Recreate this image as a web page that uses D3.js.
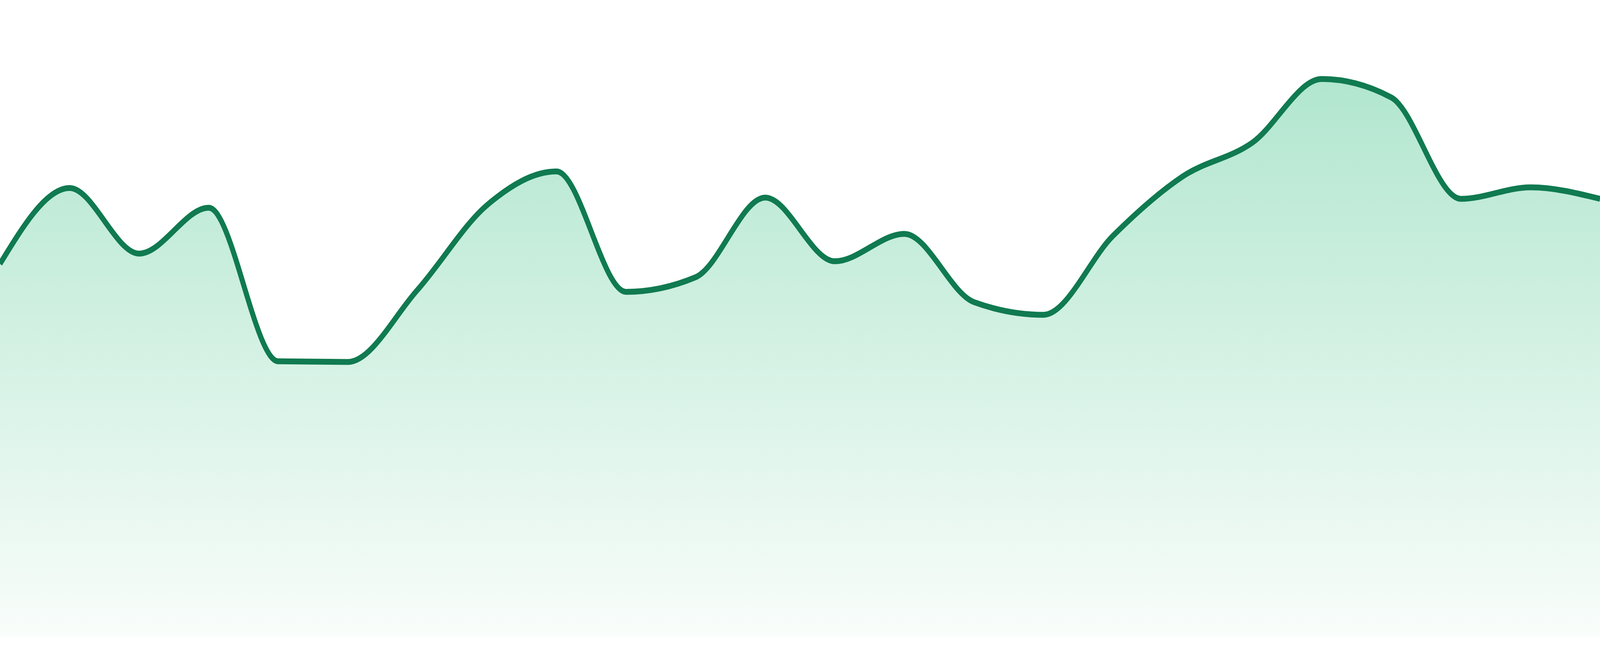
<!DOCTYPE html>
<html>
<head>
<meta charset="utf-8">
<script src="https://cdn.jsdelivr.net/npm/d3@7"></script>
<style>
  html, body { margin: 0; padding: 0; background: #fff; overflow: hidden; }
  svg { display: block; width: 100vw; height: 100vh; }
</style>
</head>
<body>
<div id="chart"></div>
<script>
// one value per hour
const hours = [
  '00:00', '01:00', '02:00', '03:00', '04:00', '05:00',
  '06:00', '07:00', '08:00', '09:00', '10:00', '11:00',
  '12:00', '13:00', '14:00', '15:00', '16:00', '17:00',
  '18:00', '19:00', '20:00', '21:00', '22:00', '23:00'
];
const values = [
  58.6, 70.5, 60.2, 67.4, 43.3, 43.2,
  54.5, 67.8, 73.1, 54.2, 56.5, 69.0,
  59.0, 63.3, 52.6, 50.6, 63.0, 72.3,
  77.6, 87.6, 84.7, 68.8, 70.6, 68.8
];
const yDomain = [0, 100];

// drawing space; the svg is stretched to fill the window
const svgW = 4800, svgH = 1680;
const margin = { top: 0, right: 0, bottom: 48, left: 0 };

const data = hours.map((h, i) => ({ h, v: values[i] }));

const chart = d3.select('#chart').append('svg')
  .attr('viewBox', `0 0 ${svgW} ${svgH}`)
  .attr('preserveAspectRatio', 'none');

const x = d3.scalePoint()
  .domain(hours)
  .range([margin.left, svgW - margin.right]);

const y = d3.scaleLinear()
  .domain(yDomain)
  .range([svgH - margin.bottom, margin.top]);

// soft green fade under the line
const grad = chart.append('defs').append('linearGradient')
  .attr('id', 'fill')
  .attr('gradientUnits', 'userSpaceOnUse')
  .attr('x1', 0).attr('x2', 0)
  .attr('y1', y(yDomain[1])).attr('y2', y(yDomain[0]));
grad.append('stop').attr('offset', '0%').attr('stop-color', '#a7e3c8');
grad.append('stop').attr('offset', '100%').attr('stop-color', '#f9fdfb');

const area = d3.area()
  .x(d => x(d.h))
  .y0(y(0))
  .y1(d => y(d.v))
  .curve(d3.curveMonotoneX);

const line = d3.line()
  .x(d => x(d.h))
  .y(d => y(d.v))
  .curve(d3.curveMonotoneX);

chart.append('path')
  .datum(data)
  .attr('d', area)
  .attr('fill', 'url(#fill)');

chart.append('path')
  .datum(data)
  .attr('d', line)
  .attr('fill', 'none')
  .attr('stroke', '#107a50')
  .attr('stroke-width', 15)
  .attr('stroke-linejoin', 'round');
</script>
</body>
</html>
